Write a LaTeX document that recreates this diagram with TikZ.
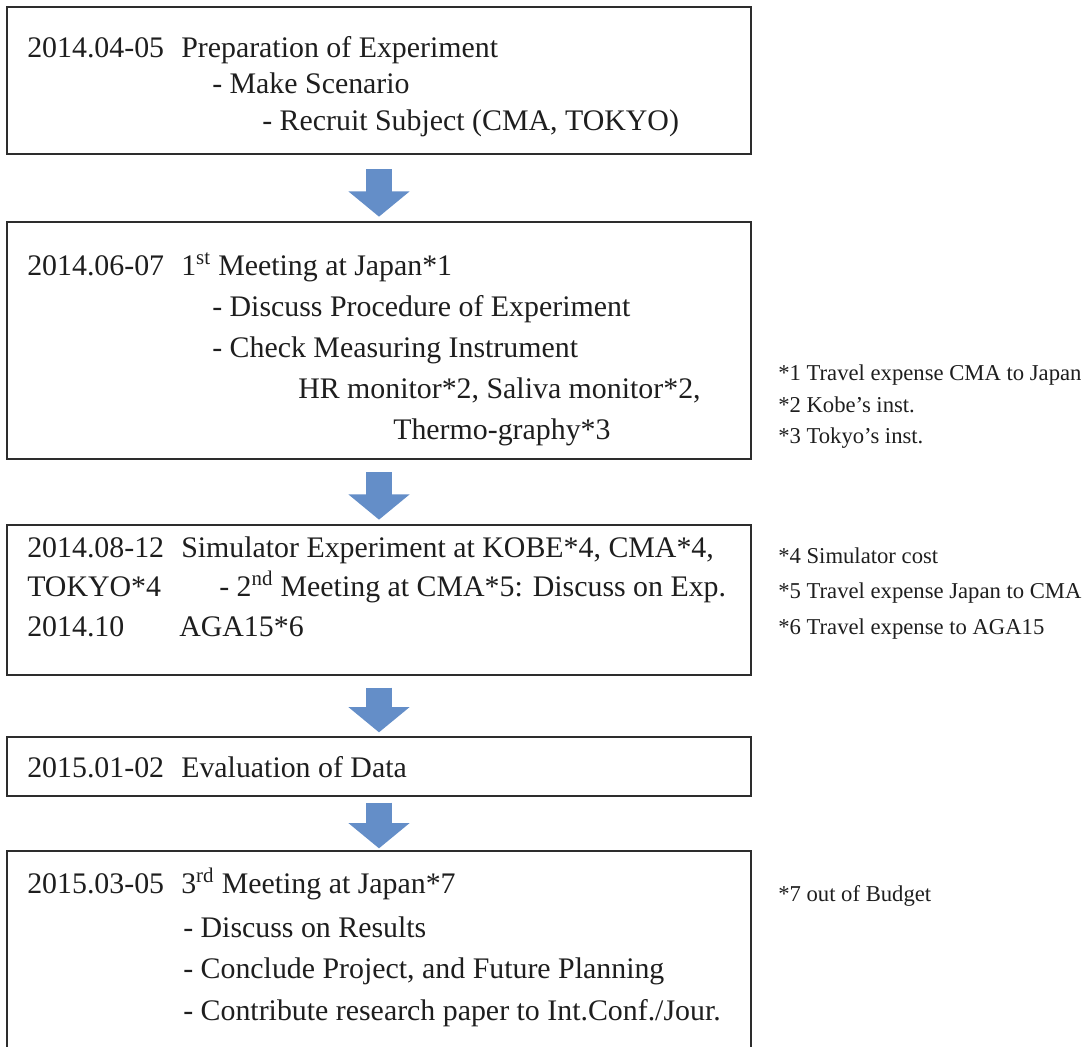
\documentclass[tikz,border=0pt]{standalone}
\usepackage{fontspec}
\setmainfont{Liberation Serif}
\usepackage{tikz}
\usetikzlibrary{arrows.meta,positioning}

\definecolor{flowblue}{RGB}{100,142,200}
\definecolor{boxgray}{RGB}{45,45,45}
\definecolor{inkgray}{RGB}{30,30,30}

\tikzset{
  stagebox/.style={draw=boxgray,line width=1pt,inner sep=0pt,minimum width=558pt},
  stagetext/.style={anchor=base west,inner sep=0pt,text=inkgray,font=\fontsize{22.4}{26}\selectfont},
  notetext/.style={anchor=base west,inner sep=0pt,text=inkgray,font=\fontsize{17}{20}\selectfont},
  flowarrow/.style={draw=flowblue,line width=19.5pt,line cap=butt,
    -{Triangle[width=45pt,length=19pt]},shorten <=11pt,shorten >=3.5pt}
}

\begin{document}
\begin{tikzpicture}[x=0.75pt,y=0.75pt,yscale=-1,xscale=1]
\useasboundingbox (0,0) rectangle (1091,1046);

%Shape: Rectangle
\node[stagebox,minimum height=110.25pt] (box1) at (379,80.5) {};
%Shape: Rectangle
\node[stagebox,minimum height=177.75pt] (box2) at (379,340.5) {};
%Shape: Rectangle
\node[stagebox,minimum height=112.5pt] (box3) at (379,600) {};
%Shape: Rectangle
\node[stagebox,minimum height=44.25pt] (box4) at (379,766.5) {};
%Shape: Rectangle
\node[stagebox,minimum height=150.75pt] (box5) at (379,951.5) {};

%Shape: Down Arrow
\draw[flowarrow] (box1.south) -- (box2.north);
\draw[flowarrow,shorten <=9.5pt] (box2.south) -- (box3.north);
\draw[flowarrow,shorten <=9pt,shorten >=3pt] (box3.south) -- (box4.north);
\draw[flowarrow,shorten <=4.5pt,shorten >=1.5pt] (box4.south) -- (box5.north);

% Text Node
\draw (27,57) node [stagetext] (d1) {2014.04-05};
\draw (181,57) node [stagetext] (t11) {Preparation of Experiment};
\draw (212,93) node [stagetext] (t12) {- Make Scenario};
\draw (262,130) node [stagetext] (t13) {- Recruit Subject (CMA, TOKYO)};

% Text Node
\draw (27,275) node [stagetext] (d2) {2014.06-07};
\draw (181,275) node [stagetext] (t21) {1\textsuperscript{st} Meeting at Japan*1};
\draw (212,316) node [stagetext] (t22) {- Discuss Procedure of Experiment};
\draw (212,357) node [stagetext] (t23) {- Check Measuring Instrument};
\draw (298,398) node [stagetext] (t24) {HR monitor*2, Saliva monitor*2,};
\draw (393,439) node [stagetext] (t25) {Thermo-graphy*3};

% Text Node
\draw (27,557) node [stagetext] (d3) {2014.08-12};
\draw (181,557) node [stagetext] (t31) {Simulator Experiment at KOBE*4, CMA*4,};
\draw (27,596) node [stagetext] (d3b) {TOKYO*4};
\draw (219,596) node [stagetext] (t32) {- 2\textsuperscript{nd} Meeting at CMA*5: Discuss on Exp.};
\draw (27,636) node [stagetext] (d3c) {2014.10};
\draw (179,636) node [stagetext] (t33) {AGA15*6};

% Text Node
\draw (27,777) node [stagetext] (d4) {2015.01-02};
\draw (181,777) node [stagetext] (t41) {Evaluation of Data};

% Text Node
\draw (27,893) node [stagetext] (d5) {2015.03-05};
\draw (181,893) node [stagetext] (t51) {3\textsuperscript{rd} Meeting at Japan*7};
\draw (183,937) node [stagetext] (t52) {- Discuss on Results};
\draw (183,978) node [stagetext] (t53) {- Conclude Project, and Future Planning};
\draw (183,1020) node [stagetext] (t54) {- Contribute research paper to Int.Conf./Jour.};

% Notes
\draw (778,380) node [notetext] (n1) {*1 Travel expense CMA to Japan};
\draw (778,412) node [notetext] (n2) {*2 Kobe’s inst.};
\draw (778,443) node [notetext] (n3) {*3 Tokyo’s inst.};
\draw (778,563) node [notetext] (n4) {*4 Simulator cost};
\draw (778,598) node [notetext] (n5) {*5 Travel expense Japan to CMA};
\draw (778,634) node [notetext] (n6) {*6 Travel expense to AGA15};
\draw (778,901) node [notetext] (n7) {*7 out of Budget};

\end{tikzpicture}
\end{document}
